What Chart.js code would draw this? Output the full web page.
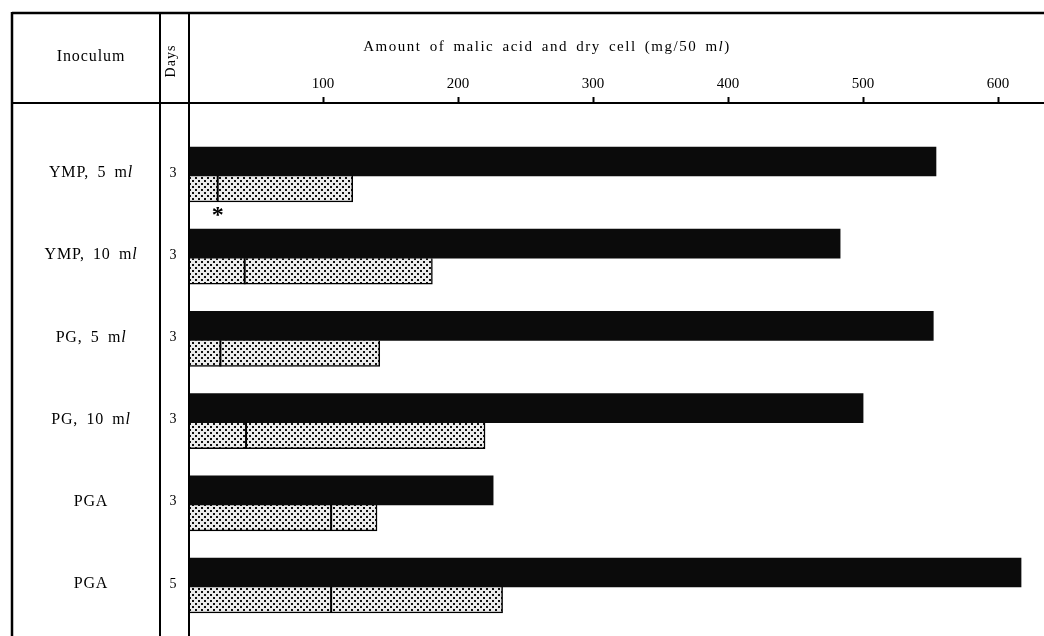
<!DOCTYPE html>
<html>
<head>
<meta charset="utf-8">
<script src="https://cdn.jsdelivr.net/npm/chart.js@4/dist/chart.umd.min.js"></script>
<style>
  html, body { margin: 0; padding: 0; background: #fff; }
  #wrap { width: 1044px; height: 636px; position: relative; }
</style>
</head>
<body>
<div id="wrap"><canvas id="c" width="1044" height="636"></canvas></div>
<script>
// Culture conditions (rows, top to bottom)
const inoculum = ['YMP, 5 ml', 'YMP, 10 ml', 'PG, 5 ml', 'PG, 10 ml', 'PGA', 'PGA'];
const days = [3, 3, 3, 3, 3, 5];

// Amounts in mg / 50 ml
const malicAcid = [554, 483, 552, 500, 226, 617];
const dryCell = [122, 181, 142, 220, 140, 233];
const dryCellMark = [22, 42, 24, 43, 106, 106];
const starredRow = 0;

// Axis ticks along the top
const tickValues = [100, 200, 300, 400, 500, 600];
const axisTitle = 'Amount of malic acid and dry cell (mg/50 ml)';

const SERIF = '"Liberation Serif", "DejaVu Serif", serif';

// Stippled fill for the dry cell bars
function stipple() {
  const t = document.createElement('canvas');
  t.width = 6; t.height = 6;
  const g = t.getContext('2d');
  g.fillStyle = '#ececec';
  g.fillRect(0, 0, 6, 6);
  g.fillStyle = '#111';
  g.fillRect(0, 0, 2, 2);
  g.fillRect(3, 3, 2, 2);
  return document.getElementById('c').getContext('2d').createPattern(t, 'repeat');
}

// Draws text centred at (cx, cy); the "l" of a unit "ml" is set in italics
function drawLabel(ctx, text, cx, cy, size, spacing, wordGap) {
  ctx.save();
  ctx.letterSpacing = spacing + 'px';
  ctx.wordSpacing = (wordGap || 0) + 'px';
  ctx.textBaseline = 'middle';
  ctx.textAlign = 'left';
  ctx.fillStyle = '#000';
  const parts = [];
  const re = /(\bm)(l)(?=\)|$|\s)/g;
  let last = 0, m;
  while ((m = re.exec(text)) !== null) {
    parts.push({ s: text.slice(last, m.index) + m[1], it: false });
    parts.push({ s: m[2], it: true });
    last = m.index + m[0].length;
  }
  parts.push({ s: text.slice(last), it: false });
  const fontOf = p => (p.it ? 'italic ' : '') + size + 'px ' + SERIF;
  let total = 0;
  parts.forEach(p => { ctx.font = fontOf(p); p.w = ctx.measureText(p.s).width; total += p.w; });
  let x = cx - total / 2;
  parts.forEach(p => { ctx.font = fontOf(p); ctx.fillText(p.s, x, cy); x += p.w; });
  ctx.restore();
}

const tablePlugin = {
  id: 'tableFrame',
  afterDraw(chart) {
    const ctx = chart.ctx;
    const xs = chart.scales.x, ys = chart.scales.y;
    const W = chart.width, H = chart.height;
    const top = 13, left = 12, colDays = 160, colPlot = 189, head = 103;

    ctx.save();
    ctx.strokeStyle = '#000';
    ctx.lineCap = 'butt';
    const line = (x1, y1, x2, y2, w) => {
      ctx.lineWidth = w;
      ctx.beginPath(); ctx.moveTo(x1, y1); ctx.lineTo(x2, y2); ctx.stroke();
    };
    line(left, top, W, top, 2.5);
    line(left, head, W, head, 2);
    line(left, top - 1, left, H, 2.5);
    line(colDays, top, colDays, H, 2);
    line(colPlot, top, colPlot, H, 2);

    // Header texts
    drawLabel(ctx, 'Inoculum', 91, 57, 16, 0.9, 0);
    drawLabel(ctx, axisTitle, 547, 47, 15, 1.5, 3);
    ctx.save();
    ctx.translate(171, 61);
    ctx.rotate(-Math.PI / 2);
    drawLabel(ctx, 'Days', 0, 0, 14, 1.0, 0);
    ctx.restore();

    // Row labels
    inoculum.forEach((lab, i) => {
      const y = ys.getPixelForValue(i);
      drawLabel(ctx, lab, 91, y - 3, 16, 0.8, 3.5);
      drawLabel(ctx, String(days[i]), 173, y - 3, 14, 0, 0);
    });

    // Division marks inside the dry cell bars
    const meta = chart.getDatasetMeta(1);
    meta.data.forEach((bar, i) => {
      const x = xs.getPixelForValue(dryCellMark[i]);
      line(x, bar.y - bar.height / 2, x, bar.y + bar.height / 2, 2);
    });

    // Asterisk under the marked bar
    const sb = meta.data[starredRow];
    ctx.fillStyle = '#000';
    ctx.font = 'bold 24px ' + SERIF;
    ctx.textAlign = 'center';
    ctx.textBaseline = 'middle';
    ctx.fillText('*', xs.getPixelForValue(dryCellMark[starredRow]), sb.y + sb.height / 2 + 14);
    ctx.restore();
  }
};

new Chart(document.getElementById('c'), {
  type: 'bar',
  data: {
    datasets: [
      {
        label: 'Malic acid',
        data: malicAcid.map((v, i) => ({ x: v, y: i })),
        backgroundColor: '#0b0b0b',
        borderWidth: 0,
        barThickness: 29
      },
      {
        label: 'Dry cell',
        data: dryCell.map((v, i) => ({ x: v, y: i })),
        backgroundColor: stipple(),
        borderColor: '#000',
        borderWidth: { top: 0, right: 1.5, bottom: 1.5, left: 0 },
        borderSkipped: false,
        barThickness: 26
      }
    ]
  },
  options: {
    indexAxis: 'y',
    responsive: false,
    animation: false,
    devicePixelRatio: 1,
    layout: { padding: { left: 188, right: 0, top: 0, bottom: 0 } },
    plugins: { legend: { display: false }, tooltip: { enabled: false }, title: { display: false } },
    scales: {
      x: {
        type: 'linear',
        position: 'top',
        min: 0,
        max: 634,
        afterBuildTicks: s => { s.ticks = tickValues.map(v => ({ value: v })); },
        afterFit: s => { s.height = 103; },
        grid: { display: true, drawOnChartArea: false, drawTicks: true, tickLength: 6, tickWidth: 2, tickColor: '#000' },
        border: { display: false },
        ticks: { autoSkip: false, maxRotation: 0, padding: 4, color: '#000', font: { family: SERIF, size: 15 } }
      },
      y: {
        type: 'linear',
        reverse: true,
        offset: false,
        min: -0.888,
        max: 5.596,
        display: false
      }
    }
  },
  plugins: [tablePlugin]
});
</script>
</body>
</html>
